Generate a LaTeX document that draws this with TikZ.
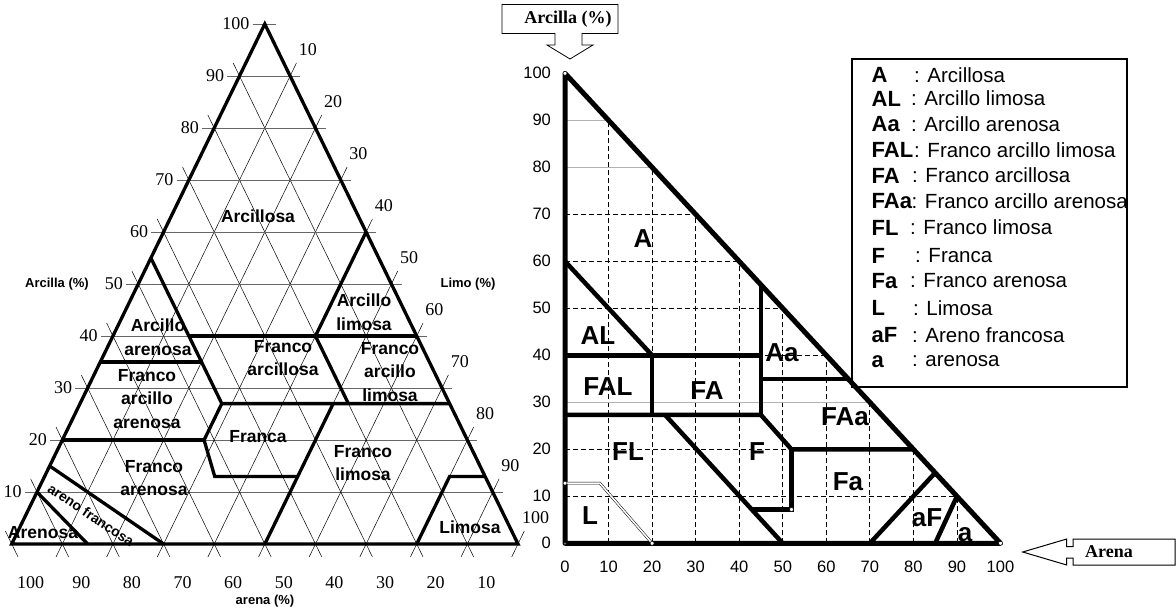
\documentclass[tikz,border=0pt]{standalone}
\usepackage{fontspec}
\setmainfont{Liberation Sans}
\newfontfamily\timesf{Liberation Serif}
\usetikzlibrary{positioning}

\begin{document}
\begin{tikzpicture}[x=1pt, y=-1pt,
  zona/.style={font=\bfseries\fontsize{17.5}{23.5}\selectfont, align=center, inner sep=0pt},
  escala/.style={font=\timesf\fontsize{18}{18}\selectfont, inner sep=0pt},
  rotulo/.style={font=\bfseries\fontsize{13}{13}\selectfont, inner sep=0pt},
  clase/.style={font=\bfseries\fontsize{26}{26}\selectfont, inner sep=0pt},
  num/.style={font=\fontsize{16.5}{16.5}\selectfont, inner sep=0pt},
  leyab/.style={font=\bfseries\fontsize{22}{22}\selectfont, anchor=west, inner sep=0pt},
  leytx/.style={font=\fontsize{20.5}{20.5}\selectfont, anchor=west, inner sep=0pt},
  caja/.style={font=\timesf\bfseries\fontsize{18}{18}\selectfont, inner sep=0pt},
  limite/.style={line width=3.3pt},
  fino/.style={line width=0.5pt},
  horiz/.style={line width=0.9pt, black!60},
  borde/.style={line width=5pt, line join=round},
  zona2/.style={line width=4.5pt},
  guia/.style={line width=0.9pt, dash pattern=on 5pt off 3pt},
  gris/.style={line width=0.9pt, black!30},
  marca/.style={circle, draw, fill=white, inner sep=0pt, minimum size=4pt, line width=0.5pt}
]
\useasboundingbox (0,0) rectangle (1176,608);

%% Left: texture triangle (silt, clay)
\begin{scope}[shift={(11.7,544)}, x={(5.063pt,0pt)}, y={(2.531pt,5.2pt)}]
  \foreach \k in {10,20,...,90} {
    \draw[horiz] (-2.4,\k) -- ({102-\k},\k);
    \draw[fino] (\k,-2.5) -- (\k,{102.5-\k});
    \draw[fino] ({102.5-\k},-2.5) -- (-2.5,{102.5-\k});
  }
  \draw[horiz] (-2.4,100) -- (2.3,100);
  \draw[fino] (100,-2.5) -- (100,2.5);
  \draw[fino] (2.5,-2.5) -- (-2.5,2.5);

  %% class limits
  \draw[limite] (0,0) -- (100,0) -- (0,100) -- cycle;
  \draw[limite] (0,55) -- (28,27) -- (73,27);
  \draw[limite] (15,40) -- (60,40);
  \draw[limite] (40,60) -- (40,40) -- (53,27);
  \draw[limite] (0,35) -- (20,35);
  \draw[limite] (28,27) -- (28,20) -- (33.6,13) -- (50,13);
  \draw[limite] (0,20) -- (28,20);
  \draw[limite] (50,0) -- (50,27);
  \draw[limite] (80,0) -- (80,13) -- (87,13);
  \draw[limite] (0,10) -- (15,0);
  \draw[limite] (0,15) -- (30,0);

  %% scales
  \foreach \k in {10,20,...,100} {
    \node[escala, anchor=east] (ca\k) at (-3,\k) {\k};
    \node[escala] (ar\k) at ({107.5-\k},-7.5) {\k};
    \node[escala] (li\k) at ({\k+1},{105-\k}) {\k};
  }
\end{scope}

%% Left: class names
\node[zona] (zA)    at (258,216) {Arcillosa};
\node[zona] (zAL)   at (364,312) {Arcillo\\limosa};
\node[zona] (zAa)   at (158,337) {Arcillo\\arenosa};
\node[zona] (zFA)   at (283,358) {Franco\\arcillosa};
\node[zona] (zFAL)  at (390,372) {Franco\\arcillo\\limosa};
\node[zona] (zFAa)  at (147,399) {Franco\\arcillo\\arenosa};
\node[zona] (zF)    at (258,437) {Franca};
\node[zona] (zFa)   at (154,478) {Franco\\arenosa};
\node[zona] (zFL)   at (363,463) {Franco\\limosa};
\node[zona] (zL)    at (470,527) {Limosa};
\node[zona] (za)    at (43,533)  {Arenosa};
\node[zona, font=\bfseries\fontsize{14}{14}\selectfont, rotate=-34] (zaF) at (91,515) {areno francosa};

%% Left: axis titles
\node[rotulo] (tArc) at (57,284)  {Arcilla (\%)};
\node[rotulo] (tLim) at (468,284) {Limo (\%)};
\node[rotulo] (tAre) at (265,601) {arena (\%)};

%% Right: square chart (sand, clay)
\begin{scope}[shift={(565,543.3)}, x={(4.355pt,0pt)}, y={(0pt,4.7pt)}]
  \foreach \k in {10,20,...,90} \draw[guia] (\k,0) -- (\k,{100-\k});
  \foreach \k in {10,20,40,50,60,70} \draw[guia] (0,\k) -- ({100-\k},\k);
  \foreach \k in {30,80,90} \draw[gris] (0,\k) -- ({100-\k},\k);

  \draw[borde] (0,100) -- (0,0) -- (100,0) -- cycle;
  \draw[zona2] (0,60) -- (20,40);
  \draw[zona2] (0,40) -- (45,40);
  \draw[zona2] (45,55) -- (45,27.3);
  \draw[zona2] (20,40) -- (20,27.3);
  \draw[zona2] (0,27.3) -- (45,27.3) -- (52,20) -- (80,20);
  \draw[zona2] (45,35) -- (65,35);
  \draw[zona2] (23,27.3) -- (50,0);
  \draw[zona2] (52,20) -- (52,7.2) -- (43.2,7.2);
  \draw[zona2] (70,0) -- (85,15);
  \draw[zona2] (85,0) -- (90,10);
  \draw[line width=0.5pt, double, double distance=1.6pt] (0,12.8) -- (8,12.8) -- (20,0);

  \node[marca] (m1) at (0,100) {};
  \node[marca] (m2) at (0,12.8) {};
  \node[marca] (m3) at (20,0) {};
  \node[marca] (m4) at (52,7.2) {};
  \node[marca] (m5) at (100,0) {};
  \node[marca, minimum size=2.5pt] (m6) at (0,0) {};

  \foreach \k in {0,10,...,100} {
    \node[num, anchor=east] (yv\k) at (-3.2,\k) {\k};
    \node[num] (xv\k) at (\k,-5) {\k};
  }
\end{scope}

%% Right: class codes
\node[clase] (cA)   at (643,239) {A};
\node[clase] (cAL)  at (598,336) {AL};
\node[clase] (cFAL) at (608,387) {FAL};
\node[clase] (cFA)  at (707,391) {FA};
\node[clase] (cFL)  at (628,452) {FL};
\node[clase] (cF)   at (757,452) {F};
\node[clase] (cL)   at (590,516) {L};
\node[clase] (cAa)  at (782,353) {Aa};
\node[clase] (cFAa) at (845,417) {FAa};
\node[clase] (cFa)  at (848,482) {Fa};
\node[clase] (caF)  at (927,518) {aF};
\node[clase] (ca)   at (965,535) {a};

%% Right: axis headers
\node[caja] (hArc) at (568,19) {Arcilla (\%)};
\draw[line width=0.8pt] (502,33.5) -- (502,4.5) -- (618,4.5) -- (618,33.5) -- (582,33.5)
  -- (582,45) -- (593,45) -- (570,59) -- (547,45) -- (555,45) -- (555,33.5) -- cycle;
\node[caja] (hAre) at (1109,552) {Arena};
\draw[line width=1pt] (1175,539) -- (1073,539) -- (1073,546.5) -- (1066.7,546.5) -- (1066.7,539)
  -- (1022.7,552) -- (1066.7,565) -- (1066.7,558) -- (1073,558) -- (1073,565) -- (1175,565) -- cycle;

%% Right: legend
\draw[line width=1.2pt] (852,59) rectangle (1127,387);
\node[leyab] (kA)   at (871.5,75)    {A};
\node[leytx] (dA)   at (914,75)      {: Arcillosa};
\node[leyab] (kAL)  at (871.5,98.5)  {AL};
\node[leytx] (dAL)  at (911,98.5)    {: Arcillo limosa};
\node[leyab] (kAa)  at (871.5,124)   {Aa};
\node[leytx] (dAa)  at (911,124)     {: Arcillo arenosa};
\node[leyab] (kFAL) at (871.5,150)   {FAL};
\node[leytx] (dFAL) at (914,150)     {: Franco arcillo limosa};
\node[leyab] (kFA)  at (871.5,175.5) {FA};
\node[leytx] (dFA)  at (912,175.5)   {: Franco arcillosa};
\node[leyab] (kFAa) at (871.5,201.5) {FAa};
\node[leytx] (dFAa) at (911.5,201.5) {: Franco arcillo arenosa};
\node[leyab] (kFL)  at (871.5,227.5) {FL};
\node[leytx] (dFL)  at (910,227.5)   {: Franco limosa};
\node[leyab] (kF)   at (871.5,256)   {F};
\node[leytx] (dF)   at (915,256)     {: Franca};
\node[leyab] (kFa)  at (871.5,281)   {Fa};
\node[leytx] (dFa)  at (910,281)     {: Franco arenosa};
\node[leyab] (kL)   at (871.5,308)   {L};
\node[leytx] (dL)   at (913,308)     {: Limosa};
\node[leyab] (kaF)  at (871.5,335)   {aF};
\node[leytx] (daF)  at (912,335)     {: Areno francosa};
\node[leyab] (ka)   at (871.5,361.5) {a};
\node[leytx] (da)   at (912,361.5)   {: arenosa};

\end{tikzpicture}
\end{document}
